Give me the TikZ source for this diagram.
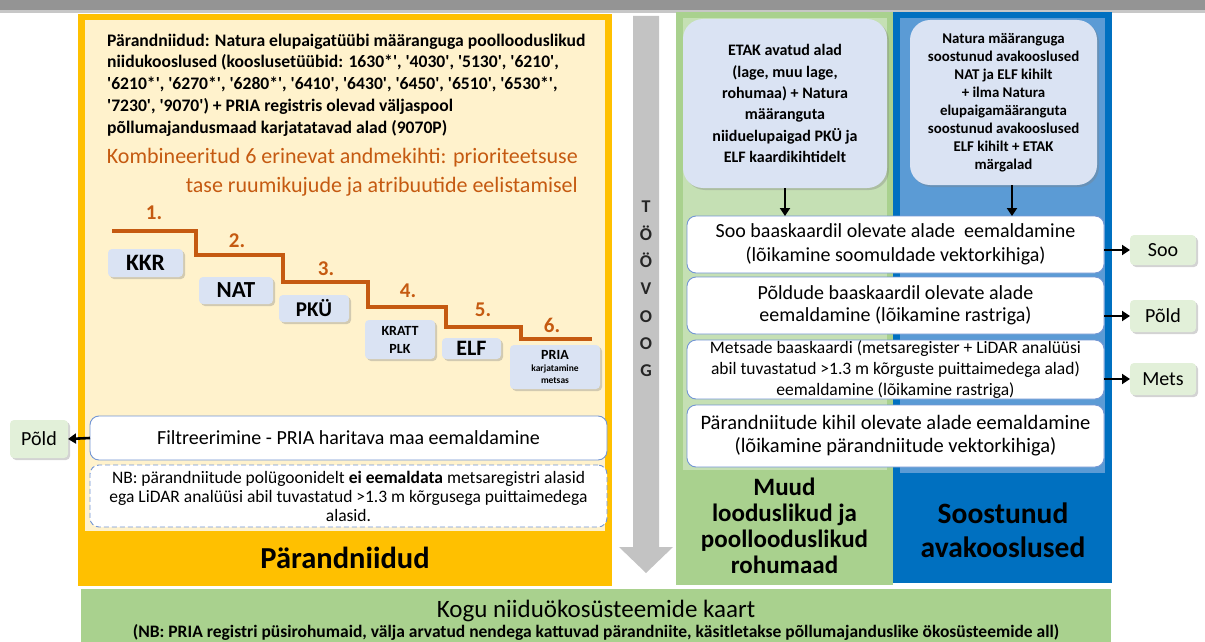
\documentclass[tikz,border=0pt]{standalone}
\usepackage{fontspec}
\setmainfont{Carlito}
% same face without the TeX quote mapping, for the straight type-code quotes
\newfontfamily\codequotes{Carlito}
\usetikzlibrary{shadows,arrows.meta}

\definecolor{gold}{HTML}{FFC000}
\definecolor{cream}{HTML}{FFF2CC}
\definecolor{rust}{HTML}{C55A11}
\definecolor{layerblue}{HTML}{DAE3F3}
\definecolor{grassdark}{HTML}{A9D18E}
\definecolor{grasslight}{HTML}{C5E0B4}
\definecolor{bogdark}{HTML}{0070C0}
\definecolor{bogmid}{HTML}{5B9BD5}
\definecolor{tagfill}{HTML}{E2F0D9}
\definecolor{frameblue}{HTML}{7396D4}
\definecolor{flowgray}{HTML}{C3C3C3}

\newcommand\fsz[2]{\fontsize{#1}{#2}\selectfont}

\begin{document}
\begin{tikzpicture}[x=1pt,y=-1pt,
  box/.style={rectangle, inner sep=0pt, outer sep=0pt},
  panel/.style={box, draw=none},
  shade/.style={drop shadow={shadow xshift=2pt, shadow yshift=-2pt, opacity=.35}},
  layer/.style={box, fill=layerblue, rounded corners=4pt, shade, align=center, font=\bfseries},
  source/.style={box, fill=layerblue, rounded corners=20pt, shade, align=center},
  proc/.style={box, fill=white, draw=frameblue, line width=0.9pt, rounded corners=9pt, align=center, minimum width=417},
  tag/.style={box, fill=tagfill, rounded corners=4pt, shade, font=\fsz{20}{22}},
  arr/.style={-{Triangle[length=8pt,width=10pt]}, line width=2.6pt, black},
  stepnum/.style={text=rust, font=\bfseries\fsz{21}{22}, inner sep=0pt},
]
\useasboundingbox (0,0) rectangle (1205,642);

% header strip along the top edge
\fill[black!42] (0,0) rectangle (1205,10);
\fill[black!22] (0,10) rectangle (1205,13);

% ---------- Pärandniidud panel ----------
\node[panel, fill=gold, minimum width=534, minimum height=572] (pnl) at (345,300) {};
\node[panel, fill=cream, minimum width=520, minimum height=511] (pnlin) at (345,275.5) {};
\node[font=\bfseries\fsz{30.5}{32}] (pnlT) at (345,558) {Pärandniidud};

\node[anchor=north west, align=left, inner sep=0pt, font=\codequotes\bfseries\fsz{17.6}{21.9}] (intro) at (107,33.5)
 {Pärandniidud: Natura elupaigatüübi määranguga poollooduslikud\\
  niidukooslused (kooslusetüübid: 1630*', '4030', '5130', '6210',\\
  '6210*', '6270*', '6280*', '6410', '6430', '6450', '6510', '6530*',\\
  '7230', '9070') + PRIA registris olevad väljaspool\\
  põllumajandusmaad karjatatavad alad (9070P)};

\node[anchor=east, align=right, inner sep=0pt, text=rust, font=\fsz{22}{29}] (combo) at (578,172)
 {Kombineeritud 6 erinevat andmekihti: prioriteetsuse\\tase ruumikujude ja atribuutide eelistamisel};

% priority staircase
\draw[rust, line width=3.5pt] (112,231) -- (196,231) -- (196,255) -- (283,255) -- (283,282)
  -- (368,282) -- (368,307) -- (446,307) -- (446,327) -- (521,327) -- (521,339) -- (592,339);
\node[stepnum] (n1) at (154,213) {1.};
\node[stepnum] (n2) at (237,241) {2.};
\node[stepnum] (n3) at (326,269) {3.};
\node[stepnum] (n4) at (408,291) {4.};
\node[stepnum] (n5) at (483,310) {5.};
\node[stepnum] (n6) at (552,325) {6.};

\node[layer, minimum width=75, minimum height=28, font=\bfseries\fsz{23.5}{24}] (kkr) at (145.5,263) {KKR};
\node[layer, minimum width=74, minimum height=27, font=\bfseries\fsz{23}{24}] (nat) at (236,290.5) {NAT};
\node[layer, minimum width=70, minimum height=27, font=\bfseries\fsz{21}{22}] (pku) at (314,308.5) {PKÜ};
\node[layer, minimum width=70, minimum height=39, font=\bfseries\fsz{14}{18}] (kratt) at (400,339.5) {KRATT\\PLK};
\node[layer, minimum width=59, minimum height=21, font=\bfseries\fsz{22}{22}] (elf) at (471.5,348.5) {ELF};
\node[layer, minimum width=90, minimum height=44, font=\bfseries\fsz{9.5}{12}] (pria) at (555,367)
 {{\fsz{14}{16}PRIA}\\karjatamine\\metsas};

\node[proc, minimum width=517, minimum height=44, font=\fsz{20}{22}] (filter) at (348.5,438)
 {Filtreerimine - PRIA haritava maa eemaldamine};
\node[proc, dash pattern=on 5pt off 3pt, minimum width=517, minimum height=62, font=\fsz{17.5}{19}] (nb) at (348.5,496)
 {NB: pärandniitude polügoonidelt \textbf{ei eemaldata} metsaregistri alasid\\
  ega LiDAR analüüsi abil tuvastatud >1.3 m kõrgusega puittaimedega\\alasid.};

\node[tag, minimum width=58, minimum height=38] (poldL) at (39,439) {Põld};
\draw[arr] (filter.west) -- (poldL.east);

% ---------- workflow arrow ----------
\fill[flowgray] (633,16) -- (659,16) -- (659,547) -- (673,547) -- (646,573) -- (619,547) -- (633,547) -- cycle;
\node[align=center, inner sep=0pt, text=black!85, font=\bfseries\fsz{18}{27.3}] (flow) at (646,289)
 {T\\Ö\\Ö\\V\\O\\O\\G};

% ---------- grassland panel ----------
\node[panel, fill=grassdark, minimum width=217, minimum height=573] (grass) at (784.5,298.5) {};
\node[panel, fill=grasslight, minimum width=204, minimum height=452] (grassin) at (785,244) {};
\node[align=center, font=\bfseries\fsz{25}{26}] (grassT) at (784.5,526)
 {Muud\\looduslikud ja\\poollooduslikud\\rohumaad};

% ---------- wetland panel ----------
\node[panel, fill=bogdark, minimum width=219, minimum height=571] (bog) at (1002.5,297.5) {};
\node[panel, fill=bogmid, minimum width=205, minimum height=455] (bogin) at (1002.5,245.5) {};
\node[align=center, font=\bfseries\fsz{29.5}{34}] (bogT) at (1003,530) {Soostunud\\avakooslused};

% source layers
\node[source, minimum width=204, minimum height=169, font=\bfseries\fsz{16}{21.3}] (etak) at (785,103.5)
 {ETAK avatud alad\\(lage, muu lage,\\rohumaa) + Natura\\määranguta\\niiduelupaigad PKÜ ja\\ELF kaardikihtidelt};
\node[source, minimum width=187, minimum height=165, font=\bfseries\fsz{14.9}{18}] (natura) at (1003.5,102.5)
 {Natura määranguga\\soostunud avakooslused\\NAT ja ELF kihilt\\+ ilma Natura\\elupaigamääranguta\\soostunud avakooslused\\ELF kihilt + ETAK\\märgalad};

% removal steps
\node[proc, minimum height=57, font=\fsz{20}{24}] (soo) at (895.5,244.5)
 {Soo baaskaardil olevate alade~ eemaldamine\\(lõikamine soomuldade vektorkihiga)};
\node[proc, minimum height=57, font=\fsz{20}{22.5}] (pold) at (895.5,305.5)
 {Põldude baaskaardil olevate alade\\eemaldamine (lõikamine rastriga)};
\node[proc, minimum height=59, font=\fsz{17.5}{21}] (mets) at (895.5,369.5)
 {Metsade baaskaardi (metsaregister + LiDAR analüüsi\\abil tuvastatud >1.3 m kõrguste puittaimedega alad)\\eemaldamine (lõikamine rastriga)};
\node[proc, minimum height=62, font=\fsz{20.5}{23}] (parand) at (895.5,436)
 {Pärandniitude kihil olevate alade eemaldamine\\(lõikamine pärandniitude vektorkihiga)};

\draw[arr] (etak.south) -- (etak.south |- soo.north);
\coordinate (natOut) at ([xshift=8.5pt]natura.south);
\draw[arr] (natOut) -- (natOut |- soo.north);

% removed classes
\node[tag, minimum width=66, minimum height=30] (sooL) at (1163,250) {Soo};
\node[tag, minimum width=66, minimum height=32] (poldR) at (1163,316) {Põld};
\node[tag, minimum width=66, minimum height=32] (metsL) at (1163,379) {Mets};
\draw[arr] (soo.east |- sooL) -- (sooL.west);
\draw[arr] (pold.east |- poldR) -- (poldR.west);
\draw[arr] (mets.east |- metsL) -- (metsL.west);

% ---------- combined map ----------
\node[panel, fill=grassdark, minimum width=1030, minimum height=60] (total) at (596,619) {};
\node[font=\fsz{25}{26}] (totalT) at (596,611) {Kogu niiduökosüsteemide kaart};
\node[font=\bfseries\fsz{17.5}{19}] (totalN) at (596,632.5)
 {(NB: PRIA registri püsirohumaid, välja arvatud nendega kattuvad pärandniite, käsitletakse põllumajanduslike ökosüsteemide all)};
\end{tikzpicture}
\end{document}
